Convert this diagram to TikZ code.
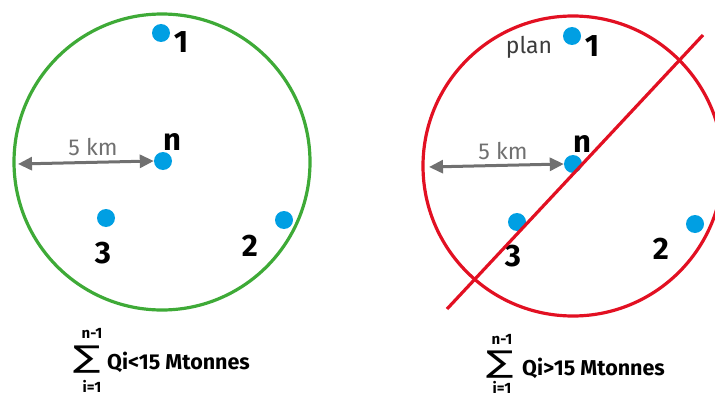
\documentclass[tikz,border=0pt]{standalone}
\usepackage{fontspec}
\setmainfont{Fira Sans}
\newfontfamily\sigmafont{DejaVu Sans}
\usetikzlibrary{arrows.meta}
\definecolor{cgreen}{RGB}{62,170,55}
\definecolor{cred}{RGB}{226,16,34}
\definecolor{cblue}{RGB}{0,159,227}
\definecolor{cgray}{RGB}{112,112,112}
\definecolor{ctext}{RGB}{60,60,60}
\tikzset{
  dot/.style={circle,fill=cblue,inner sep=0pt,minimum size=18pt},
  num/.style={font=\fontsize{31}{31}\selectfont\bfseries,inner sep=0pt},
  kmlabel/.style={font=\fontsize{23}{23}\selectfont,text=cgray,inner sep=0pt,anchor=base},
  meas/.style={draw=cgray,line width=3pt,{Triangle[length=14pt,width=13pt]}-{Triangle[length=14pt,width=13pt]},shorten <=0pt},
  ring/.style={line width=3.2pt},
  lim/.style={font=\fontsize{15}{15}\selectfont\bfseries,inner sep=0pt},
  sig/.style={font=\sigmafont\fontsize{30}{30}\selectfont,inner sep=0pt},
  cond/.style={font=\fontsize{21.5}{21.5}\selectfont\bfseries,inner sep=0pt,anchor=base west}
}
\begin{document}
\begin{tikzpicture}[x=1pt,y=-1pt]
\useasboundingbox (0,0) rectangle (715,396);
% left panel
\draw[ring,cgreen] (162,162) circle (148);
\node[dot] (l1) at (161,33) {};
\node[dot] (ln) at (163,161) {};
\node[dot] (l3) at (106,218) {};
\node[dot] (l2) at (284,220) {};
\node[num] (t1) at (181,42) {1};
\node[num] (tn) at (172,142) {n};
\node[num] (t3) at (103,253) {3};
\node[num] (t2) at (250,246) {2};
\coordinate (lleft) at (18,164);
\draw[meas] (lleft) -- (ln.west);
\node[kmlabel] (lkm) at (93,155) {5 km};
% left formula
\node[sig] (ls) at (87,360) {\scalebox{1.35}[1]{∑}};
\node[lim] (lup) at (92,333) {n-1};
\node[lim] (llo) at (92,386) {i=1};
\node[cond] (lc) at (107,369) {Qi<15 Mtonnes};
% right panel
\draw[ring,cred] (573,166) circle (150);
\node[dot] (r1) at (572,36) {};
\node[dot] (rn) at (573,164) {};
\node[dot] (r3) at (517,222) {};
\node[dot] (r2) at (695,224) {};
\node[num] (u1) at (592,46) {1};
\node[num] (un) at (582,144) {n};
\node[num] (u3) at (513,256) {3};
\node[num] (u2) at (661,249) {2};
\node[font=\fontsize{23}{23}\selectfont,text=ctext,inner sep=0pt,anchor=base] (plan) at (529,54) {plan};
\coordinate (rleft) at (429,167);
\draw[meas] (rleft) -- (rn.west);
\node[kmlabel] (rkm) at (503,159) {5 km};
\coordinate (xa) at (447,309);
\coordinate (xb) at (703,35);
\draw[ring,cred] (xa) -- (xb);
% right formula
\node[sig] (rs) at (500,365) {\scalebox{1.35}[1]{∑}};
\node[lim] (rup) at (502,339) {n-1};
\node[lim] (rlo) at (502,387) {i=1};
\node[cond] (rc) at (522,375) {Qi>15 Mtonnes};
\end{tikzpicture}
\end{document}
